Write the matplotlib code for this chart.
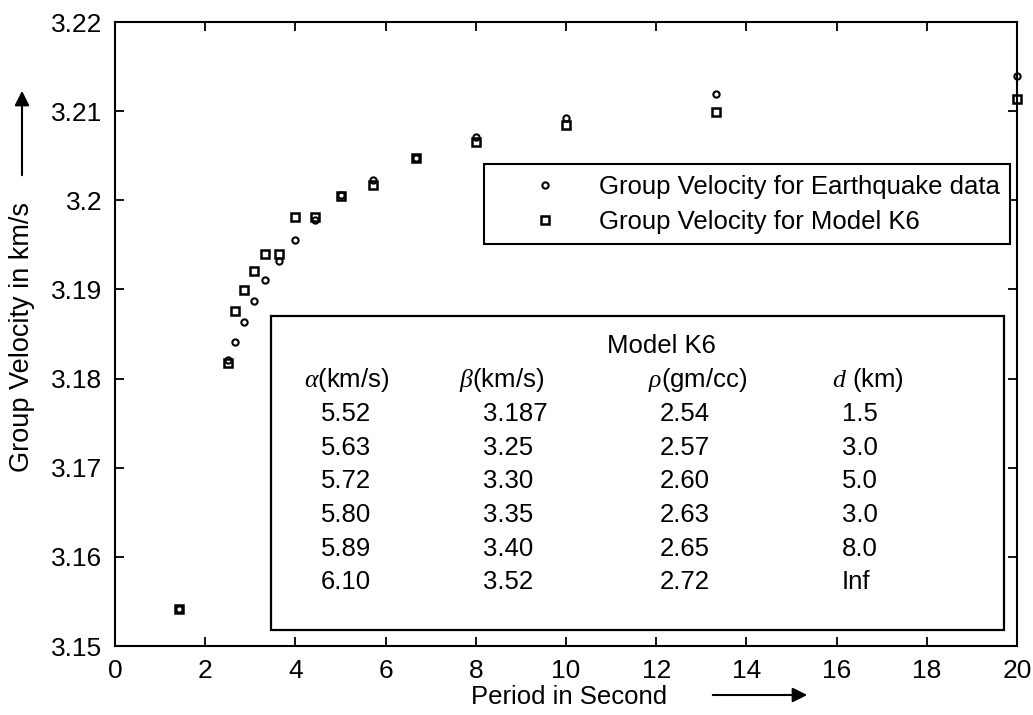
import matplotlib
matplotlib.use("Agg")
import matplotlib.pyplot as plt
from matplotlib.patches import Rectangle, FancyArrowPatch
from matplotlib.ticker import FormatStrFormatter

# ---- data ----
period = [1.43, 2.5, 2.67, 2.86, 3.08, 3.33, 3.64, 4.0, 4.44, 5.0, 5.71, 6.67, 8.0, 10.0, 13.33, 20.0]
gv_earthquake = [3.1541, 3.1821, 3.1841, 3.1863, 3.1887, 3.1911, 3.1932, 3.1956, 3.1978,
                 3.2006, 3.2023, 3.2047, 3.2071, 3.2092, 3.2119, 3.2139]
gv_model = [3.1541, 3.1818, 3.1876, 3.1899, 3.1921, 3.1940, 3.1940, 3.1981, 3.1981,
            3.2005, 3.2017, 3.2047, 3.2065, 3.2084, 3.2099, 3.2114]

xticks = [0, 2, 4, 6, 8, 10, 12, 14, 16, 18, 20]
yticks = [3.15, 3.16, 3.17, 3.18, 3.19, 3.20, 3.21, 3.22]

table_title = "Model K6"
table_headers = [r"$\alpha$(km/s)", r"$\beta$(km/s)", r"$\rho$(gm/cc)", r"$d$ (km)"]
alpha_vals = ["5.52", "5.63", "5.72", "5.80", "5.89", "6.10"]
beta_vals = ["3.187", "3.25", "3.30", "3.35", "3.40", "3.52"]
rho_vals = ["2.54", "2.57", "2.60", "2.63", "2.65", "2.72"]
d_vals = ["1.5", "3.0", "5.0", "3.0", "8.0", "Inf"]

plt.rcParams['font.family'] = ['Liberation Sans', 'DejaVu Sans']
plt.rcParams['mathtext.fontset'] = 'custom'
plt.rcParams['mathtext.it'] = 'Liberation Serif:italic'

FS = 18.5

fig = plt.figure(figsize=(10.33, 7.15), dpi=100)
ax = fig.add_axes([115/1033, 69/715, 902/1033, 624/715])

ax.plot(period, gv_earthquake, linestyle='none', marker='o', ms=4.5, mfc='none',
        mec='black', mew=1.5, clip_on=False, label='Group Velocity for Earthquake data')
ax.plot(period, gv_model, linestyle='none', marker='s', ms=6.3, mfc='none',
        mec='black', mew=1.8, clip_on=False, label='Group Velocity for Model K6')

ax.set_xlim(0, 20)
ax.set_ylim(3.15, 3.22)
ax.set_xticks(xticks)
ax.set_yticks(yticks)
ax.yaxis.set_major_formatter(FormatStrFormatter('%g'))
ax.tick_params(direction='in', length=6.5, width=1.3, top=True, right=True,
               labelsize=19)
ax.tick_params(axis='y', pad=9)
ax.tick_params(axis='x', pad=9)
for s in ax.spines.values():
    s.set_linewidth(1.5)

leg = ax.legend(loc='upper right', bbox_to_anchor=(0.992, 0.772), borderaxespad=0,
                fontsize=FS, borderpad=0.4, handlelength=3.9, handletextpad=0.15,
                labelspacing=0.45, fancybox=False, framealpha=1, edgecolor='black')
leg.get_frame().set_linewidth(1.5)

# table box
ax.add_patch(Rectangle((0.173, 0.026), 0.8126, 0.503, transform=ax.transAxes,
                       fill=False, edgecolor='black', lw=1.6, zorder=3))
ax.text(0.606, 0.481, table_title, transform=ax.transAxes, fontsize=FS,
        ha='center', va='center')
head_x = [0.2095, 0.381, 0.591, 0.795]
val_x = [0.228, 0.408, 0.604, 0.806]
head_y = 0.426
row_y = [0.372, 0.318, 0.264, 0.210, 0.156, 0.103]
for hx, h in zip(head_x, table_headers):
    ax.text(hx, head_y, h, transform=ax.transAxes, fontsize=FS, ha='left', va='center')
for vx, col in zip(val_x, [alpha_vals, beta_vals, rho_vals, d_vals]):
    for ry, v in zip(row_y, col):
        ax.text(vx, ry, v, transform=ax.transAxes, fontsize=FS, ha='left', va='center')

# axis labels with arrows
fig.text(22/1033, 1 - 337/715, "Group Velocity in km/s", rotation=90, fontsize=19.5,
         ha='center', va='center')
fig.add_artist(FancyArrowPatch(
    (22/1033, 1 - 178/715), (22/1033, 1 - 88/715), transform=fig.transFigure,
    arrowstyle='-|>', mutation_scale=22, lw=1.5, color='black'))
fig.text(569/1033, 1 - 697/715, "Period in Second", fontsize=FS,
         ha='center', va='center')
fig.add_artist(FancyArrowPatch(
    (710/1033, 1 - 695/715), (810/1033, 1 - 695/715), transform=fig.transFigure,
    arrowstyle='-|>', mutation_scale=22, lw=1.5, color='black'))

fig.savefig("out.png", dpi=100)
